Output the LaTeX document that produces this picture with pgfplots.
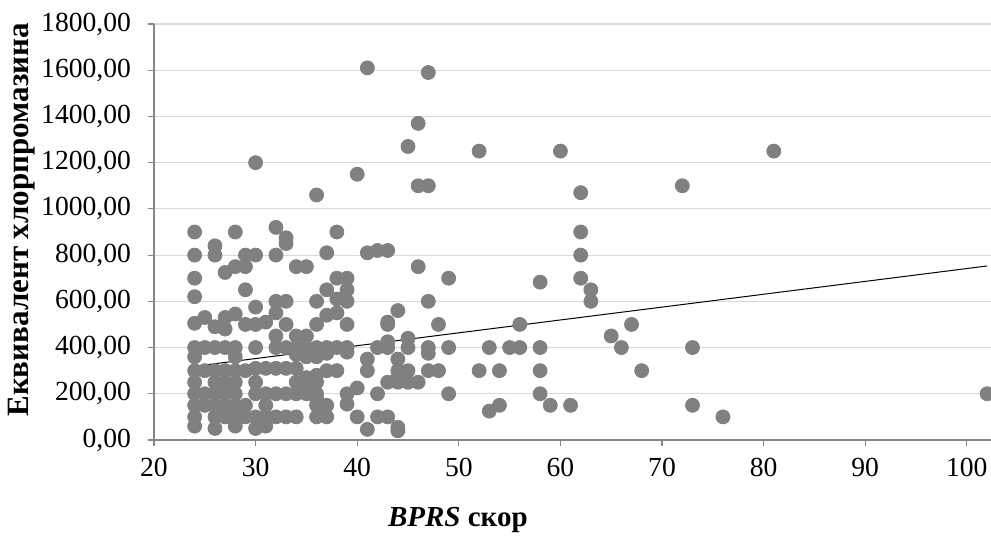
\documentclass[border=0pt]{standalone}
\usepackage{fontspec}
\setmainfont{Liberation Serif}
\usepackage{pgfplots}
\pgfplotsset{compat=1.18}
\usetikzlibrary{calc}
\definecolor{dotgray}{HTML}{808080}
\definecolor{gridgray}{HTML}{D9D9D9}
\definecolor{axisgray}{HTML}{868686}

\pgfplotstableread{
x y
24 900
24 800
24 700
24 620
24 505
24 400
24 360
24 300
24 250
24 200
24 150
24 100
24 60
25 530
25 400
25 300
25 200
25 150
26 840
26 800
26 490
26 400
26 300
26 250
26 200
26 150
26 100
26 50
27 725
27 530
27 480
27 400
27 300
27 250
27 200
27 150
27 100
28 900
28 750
28 545
28 400
28 360
28 300
28 250
28 200
28 150
28 100
28 60
29 800
29 750
29 650
29 500
29 300
29 150
29 100
30 1200
30 800
30 575
30 500
30 400
30 310
30 250
30 200
30 100
30 50
31 510
31 310
31 200
31 150
31 100
31 60
32 920
32 800
32 600
32 550
32 450
32 400
32 310
32 200
32 100
33 875
33 850
33 600
33 500
33 400
33 310
33 200
33 100
34 750
34 450
34 400
34 370
34 310
34 250
34 200
34 100
35 750
35 450
35 400
35 360
35 270
35 250
35 200
36 1060
36 600
36 500
36 400
36 360
36 280
36 250
36 200
36 180
36 150
36 100
37 810
37 650
37 540
37 400
37 375
37 300
37 150
37 100
38 900
38 700
38 610
38 550
38 400
38 300
39 700
39 650
39 600
39 500
39 400
39 380
39 200
39 155
40 1150
40 225
40 100
41 1610
41 810
41 350
41 300
41 46
42 820
42 400
42 200
42 100
43 820
43 510
43 500
43 425
43 400
43 250
43 100
44 560
44 350
44 300
44 270
44 250
44 55
44 40
45 1270
45 440
45 400
45 300
45 250
46 1370
46 1100
46 750
46 250
47 1590
47 1100
47 600
47 400
47 375
47 300
48 500
48 300
49 700
49 400
49 200
52 1250
52 300
53 400
53 125
54 300
54 150
55 400
56 500
56 400
58 683
58 400
58 300
58 200
59 150
60 1250
61 150
62 1070
62 900
62 800
62 700
63 650
63 600
65 450
66 400
67 500
68 300
72 1100
73 400
73 150
76 100
81 1250
102 200
}\bprsdata

\begin{document}
\begin{tikzpicture}
\begin{axis}[
  scale only axis,
  width=418.5pt, height=208pt,
  xmin=20, xmax=102.38,
  ymin=0, ymax=1800,
  xtick={20,30,...,100},
  ytick={0,200,...,1800},
  axis x line=bottom, axis y line=left,
  axis line style={-, axisgray, line width=0.6pt},
  tick style={axisgray, line width=0.6pt},
  tick align=outside,
  major tick length=3pt,
  ymajorgrids,
  grid style={gridgray, line width=0.6pt},
  tick label style={font=\fontsize{13.8}{14}\selectfont},
  /pgf/number format/assume math mode=true,
  yticklabel style={xshift=-5pt, /pgf/number format/.cd, fixed, fixed zerofill, precision=2, use comma, 1000 sep={}},
  xticklabel style={yshift=-2.5pt, /pgf/number format/.cd, 1000 sep={}},
  xlabel={\textbf{\textit{BPRS} скор}},
  xlabel style={font=\fontsize{14.5}{15}\selectfont, at={(axis description cs:0.363,0)}, anchor=center, yshift=-40pt},
  ylabel={\textbf{Еквивалент хлорпромазина}},
  ylabel style={font=\fontsize{15.5}{16}\selectfont, at={(axis description cs:0,0.529)}, anchor=center, yshift=66pt},
]
\addplot[only marks, mark=*, mark size=3.5pt, mark options={draw=dotgray, fill=dotgray}] table[x=x, y=y] {\bprsdata};
\addplot[black, line width=0.5pt, no marks] coordinates {(24,319) (102,753)};
\coordinate (ll) at (rel axis cs:0,0);
\coordinate (ur) at (rel axis cs:1,1);
\end{axis}
\pgfresetboundingbox
\path[use as bounding box] ($(ll)+(-77pt,-49pt)$) rectangle ($(ur)+(0pt,12pt)$);
\end{tikzpicture}
\end{document}
